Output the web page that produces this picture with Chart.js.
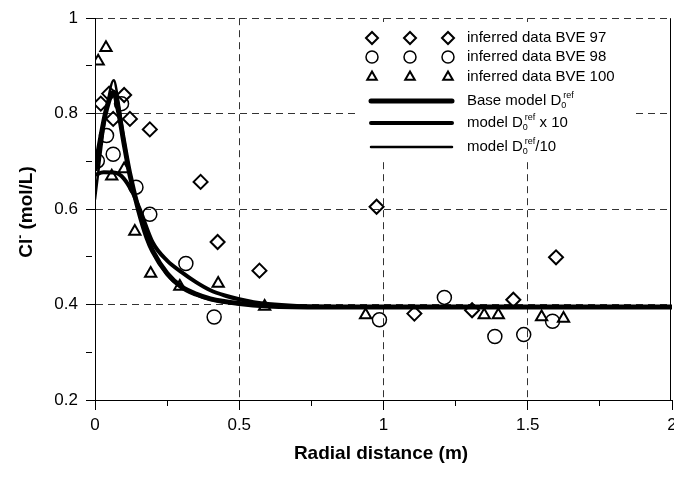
<!DOCTYPE html>
<html>
<head>
<meta charset="utf-8">
<script src="https://cdn.jsdelivr.net/npm/chart.js@4.4.0/dist/chart.umd.min.js"></script>
<style>
body { margin: 0; background: #fff; }
#wrap { width: 674px; height: 477px; }
</style>
</head>
<body>
<div id="wrap"><canvas id="clChart"></canvas></div>
<script>
// inferred Cl- data
const bve97X = [0.020, 0.049, 0.101, 0.063, 0.121, 0.19, 0.366, 0.425, 0.570, 0.976, 1.107, 1.307, 1.45, 1.598];
const bve97Y = [0.821, 0.842, 0.839, 0.789, 0.789, 0.767, 0.657, 0.531, 0.471, 0.605, 0.381, 0.388, 0.41, 0.499];
const bve98X = [0.008, 0.040, 0.063, 0.092, 0.142, 0.19, 0.315, 0.413, 0.986, 1.211, 1.386, 1.486, 1.586];
const bve98Y = [0.701, 0.754, 0.715, 0.821, 0.646, 0.589, 0.486, 0.374, 0.368, 0.415, 0.333, 0.337, 0.365];
const bve100X = [0.011, 0.038, 0.058, 0.101, 0.138, 0.193, 0.294, 0.427, 0.588, 0.938, 1.349, 1.398, 1.548, 1.624];
const bve100Y = [0.910, 0.938, 0.669, 0.684, 0.553, 0.465, 0.438, 0.444, 0.396, 0.378, 0.378, 0.378, 0.374, 0.371];

// model curves
const baseX = [0, 0.02, 0.04, 0.065, 0.08, 0.1, 0.12, 0.15, 0.18, 0.2, 0.25, 0.3, 0.35, 0.4, 0.5, 0.6, 0.8, 2.0];
const baseY = [0.68, 0.75, 0.81, 0.845, 0.81, 0.74, 0.675, 0.60, 0.54, 0.512, 0.465, 0.437, 0.422, 0.412, 0.402, 0.397, 0.395, 0.395];
const x10X = [0, 0.03, 0.07, 0.1, 0.13, 0.155, 0.2, 0.25, 0.3, 0.35, 0.4, 0.45, 0.5, 0.55, 0.6, 0.7, 0.9, 2.0];
const x10Y = [0.672, 0.677, 0.676, 0.664, 0.635, 0.600, 0.53, 0.492, 0.468, 0.447, 0.43, 0.419, 0.411, 0.405, 0.401, 0.397, 0.395, 0.395];
const div10X = [0, 0.02, 0.04, 0.065, 0.08, 0.1, 0.12, 0.15, 0.18, 0.2, 0.25, 0.3, 0.35, 0.4, 0.5, 0.6, 0.8, 2.0];
const div10Y = [0.62, 0.72, 0.81, 0.87, 0.83, 0.75, 0.68, 0.60, 0.54, 0.51, 0.462, 0.435, 0.42, 0.41, 0.401, 0.397, 0.395, 0.395];

const xTicks = [0, 0.5, 1, 1.5, 2];
const yTicks = [0.2, 0.4, 0.6, 0.8, 1];

function pts(xs, ys) {
    return xs.map((x, i) => ({ x: x, y: ys[i] }));
}
function isMajor(v, list) {
    return list.some(t => Math.abs(t - v) < 1e-6);
}

const FONT = "'Liberation Sans', Arial, sans-serif";

function drawModelLabel(ctx, x, y, pre, post) {
    ctx.font = '15px ' + FONT;
    ctx.textBaseline = 'middle';
    ctx.textAlign = 'left';
    ctx.fillText(pre, x, y);
    let w = ctx.measureText(pre).width;
    ctx.font = '9px ' + FONT;
    ctx.fillText('0', x + w, y + 5);
    ctx.fillText('ref', x + w + 2, y - 5);
    let w2 = Math.max(ctx.measureText('0').width, ctx.measureText('ref').width + 2);
    ctx.font = '15px ' + FONT;
    ctx.fillText(post, x + w + w2, y);
}

const overlay = {
    id: 'overlay',
    afterDatasetsDraw(chart) {
        const ctx = chart.ctx;
        const a = chart.chartArea;
        ctx.save();
        ctx.strokeStyle = '#000';
        ctx.lineWidth = 1;
        ctx.beginPath();
        ctx.moveTo(a.right - 1.5, a.top);
        ctx.lineTo(a.right - 1.5, a.bottom);
        ctx.stroke();

        // legend
        ctx.fillStyle = '#fff';
        ctx.fillRect(358, 22, 277, 136);
        const marks = [
            { style: 'rectRot', r: 6, bw: 2, y: 38 },
            { style: 'circle', r: 6, bw: 1.5, y: 57 },
            { style: 'triangle', r: 5.5, bw: 2, y: 77 }
        ];
        const names = ['inferred data BVE 97', 'inferred data BVE 98', 'inferred data BVE 100'];
        marks.forEach((m, i) => {
            [372, 410, 448].forEach(px => {
                ctx.fillStyle = 'rgba(0,0,0,0)';
                ctx.strokeStyle = '#000';
                ctx.lineWidth = m.bw;
                Chart.helpers.drawPoint(ctx, { pointStyle: m.style, radius: m.r, borderWidth: m.bw, rotation: 0 }, px, m.y);
            });
            ctx.fillStyle = '#000';
            ctx.font = '15px ' + FONT;
            ctx.textBaseline = 'middle';
            ctx.textAlign = 'left';
            ctx.fillText(names[i], 467, m.y);
        });
        const lines = [
            { w: 5, y: 101, pre: 'Base model D', post: '' },
            { w: 4, y: 123, pre: 'model D', post: ' x 10' },
            { w: 2.5, y: 147, pre: 'model D', post: '/10' }
        ];
        lines.forEach(l => {
            ctx.strokeStyle = '#000';
            ctx.lineWidth = l.w;
            ctx.lineCap = 'round';
            ctx.beginPath();
            ctx.moveTo(371, l.y);
            ctx.lineTo(452, l.y);
            ctx.stroke();
            ctx.fillStyle = '#000';
            drawModelLabel(ctx, 467, l.y, l.pre, l.post);
        });

        // axis titles
        ctx.fillStyle = '#000';
        ctx.font = 'bold 19px ' + FONT;
        ctx.textAlign = 'center';
        ctx.textBaseline = 'middle';
        ctx.fillText('Radial distance (m)', 381, 454);

        ctx.translate(27, 212);
        ctx.rotate(-Math.PI / 2);
        ctx.font = 'bold 19px ' + FONT;
        const p1 = 'Cl', p3 = ' (mol/L)';
        const w1 = ctx.measureText(p1).width;
        const w3 = ctx.measureText(p3).width;
        ctx.font = 'bold 12px ' + FONT;
        const w2 = ctx.measureText('-').width;
        const start = -(w1 + w2 + w3) / 2;
        ctx.textAlign = 'left';
        ctx.font = 'bold 19px ' + FONT;
        ctx.fillText(p1, start, 0);
        ctx.font = 'bold 12px ' + FONT;
        ctx.fillText('-', start + w1, -6);
        ctx.font = 'bold 19px ' + FONT;
        ctx.fillText(p3, start + w1 + w2, 0);
        ctx.restore();
    }
};

const ctx = document.getElementById('clChart').getContext('2d');
const myChart = new Chart(ctx, {
    type: 'scatter',
    data: {
        datasets: [
            { label: 'Base model', data: pts(baseX, baseY), showLine: true, borderColor: '#000', borderWidth: 5,
              pointRadius: 0, cubicInterpolationMode: 'monotone', order: 0 },
            { label: 'model x 10', data: pts(x10X, x10Y), showLine: true, borderColor: '#000', borderWidth: 4,
              pointRadius: 0, cubicInterpolationMode: 'monotone', order: 0 },
            { label: 'model /10', data: pts(div10X, div10Y), showLine: true, borderColor: '#000', borderWidth: 2.5,
              pointRadius: 0, cubicInterpolationMode: 'monotone', order: 0 },
            { label: 'inferred data BVE 97', data: pts(bve97X, bve97Y), pointStyle: 'rectRot', pointRadius: 7,
              borderColor: '#000', borderWidth: 2, backgroundColor: 'rgba(0,0,0,0)', order: 1 },
            { label: 'inferred data BVE 98', data: pts(bve98X, bve98Y), pointStyle: 'circle', pointRadius: 7,
              borderColor: '#000', borderWidth: 1.5, backgroundColor: 'rgba(0,0,0,0)', order: 1 },
            { label: 'inferred data BVE 100', data: pts(bve100X, bve100Y), pointStyle: 'triangle', pointRadius: 6.5,
              borderColor: '#000', borderWidth: 2, backgroundColor: 'rgba(0,0,0,0)', order: 1 }
        ]
    },
    options: {
        responsive: true,
        maintainAspectRatio: false,
        animation: false,
        layout: { autoPadding: false, padding: { top: 16, right: 2, left: 0, bottom: 0 } },
        plugins: { legend: { display: false }, tooltip: { enabled: false } },
        scales: {
            x: {
                type: 'linear',
                min: 0,
                max: 2,
                afterFit: s => { s.height = 77; s.paddingRight = 0; s.paddingLeft = 0; },
                border: { display: true, color: '#000', width: 1, dash: [7, 5] },
                grid: {
                    color: c => (isMajor(c.tick.value, xTicks) && c.tick.value > 0 && c.tick.value < 2) ? '#333' : 'rgba(0,0,0,0)',
                    lineWidth: 1,
                    tickColor: '#000',
                    tickLength: 10,
                    tickBorderDash: c => isMajor(c.tick.value, xTicks) ? [] : [5, 50]
                },
                ticks: {
                    stepSize: 0.25,
                    autoSkip: false,
                    maxRotation: 0,
                    padding: 5,
                    color: '#000',
                    font: { family: FONT, size: 17 },
                    callback: v => isMajor(v, xTicks) ? String(Math.round(v * 100) / 100) : ''
                }
            },
            y: {
                type: 'linear',
                min: 0.2,
                max: 1,
                afterFit: s => { s.width = 95; },
                border: { display: true, color: '#000', width: 1, dash: [7, 5] },
                grid: {
                    color: c => (isMajor(c.tick.value, yTicks) && c.tick.value > 0.3) ? '#333' : 'rgba(0,0,0,0)',
                    lineWidth: 1,
                    tickColor: '#000',
                    tickLength: 9,
                    tickBorderDash: c => isMajor(c.tick.value, yTicks) ? [] : [6, 50]
                },
                ticks: {
                    stepSize: 0.1,
                    autoSkip: false,
                    padding: 8,
                    color: '#000',
                    font: { family: FONT, size: 17 },
                    callback: v => isMajor(v, yTicks) ? (Math.abs(v - 1) < 1e-6 ? '1' : v.toFixed(1)) : ''
                }
            }
        }
    },
    plugins: [overlay]
});
</script>
</body>
</html>
